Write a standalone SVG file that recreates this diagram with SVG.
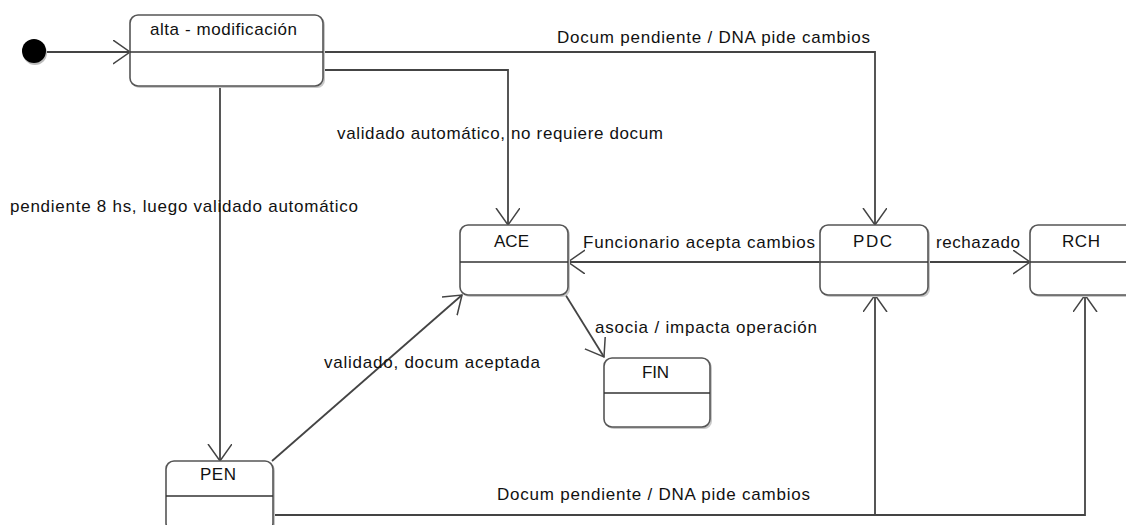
<svg xmlns="http://www.w3.org/2000/svg" width="1126" height="525" viewBox="0 0 1126 525">
<style>
.bg{fill:#fff}
.shadow{fill:#c8c8c8}
.box{fill:#fff;stroke:#555;stroke-width:1.6}
.div{stroke:#333;stroke-width:1.6}
.t{font-family:"Liberation Sans",Arial,sans-serif;font-size:17px;fill:#111}
.con{fill:none;stroke:#444;stroke-width:1.8}
</style>
<defs>
<marker id="arr" markerUnits="userSpaceOnUse" markerWidth="20" markerHeight="26" refX="17" refY="12" orient="auto">
<path d="M0,0 L17,12 L0,24" fill="none" stroke="#444" stroke-width="1.5"/>
</marker>
</defs>
<rect class="bg" x="0" y="0" width="1126" height="525"/>

<g id="connectors">
<path class="con" d="M46,52 H130" marker-end="url(#arr)"/>
<path class="con" d="M323,52 H875 V225" marker-end="url(#arr)"/>
<path class="con" d="M323,70 H508 V225" marker-end="url(#arr)"/>
<path class="con" d="M220,86 V461" marker-end="url(#arr)"/>
<path class="con" d="M820,262 H568" marker-end="url(#arr)"/>
<path class="con" d="M928,262 H1030" marker-end="url(#arr)"/>
<path class="con" d="M565,294 L604,357" marker-end="url(#arr)"/>
<path class="con" d="M272,461 L462,295" marker-end="url(#arr)"/>
<path class="con" d="M273,515 H875 V295" marker-end="url(#arr)"/>
<path class="con" d="M875,515 H1085 V295" marker-end="url(#arr)"/>
<text class="t" x="557" y="43" textLength="313" lengthAdjust="spacing">Docum pendiente / DNA pide cambios</text>
<text class="t" x="337" y="139" textLength="326" lengthAdjust="spacing">validado automático, no requiere docum</text>
<text class="t" x="10" y="212" textLength="348" lengthAdjust="spacing">pendiente 8 hs, luego validado automático</text>
<text class="t" x="583" y="248" textLength="232" lengthAdjust="spacing">Funcionario acepta cambios</text>
<text class="t" x="936" y="248" textLength="84" lengthAdjust="spacing">rechazado</text>
<text class="t" x="595" y="333" textLength="222" lengthAdjust="spacing">asocia / impacta operación</text>
<text class="t" x="324" y="368" textLength="216" lengthAdjust="spacing">validado, docum aceptada</text>
<text class="t" x="497" y="500" textLength="313" lengthAdjust="spacing">Docum pendiente / DNA pide cambios</text>
</g>

<g id="initial">
<circle cx="35" cy="53" r="12" fill="#bbb"/>
<circle cx="34" cy="51" r="12" fill="#000"/>
</g>

<g id="alta">
<rect class="shadow" x="132" y="17" width="193" height="71" rx="8"/>
<rect class="box" x="130" y="15" width="193" height="71" rx="8"/>
<line class="div" x1="130" y1="52" x2="323" y2="52"/>
<text class="t" x="150" y="35" textLength="147" lengthAdjust="spacing">alta - modificación</text>
</g>

<g id="ACE">
<rect class="shadow" x="462" y="227" width="108" height="70" rx="8"/>
<rect class="box" x="460" y="225" width="108" height="70" rx="8"/>
<line class="div" x1="460" y1="262" x2="568" y2="262"/>
<text class="t" x="494" y="247" textLength="35" lengthAdjust="spacing">ACE</text>
</g>

<g id="PDC">
<rect class="shadow" x="822" y="227" width="108" height="70" rx="8"/>
<rect class="box" x="820" y="225" width="108" height="70" rx="8"/>
<line class="div" x1="820" y1="262" x2="928" y2="262"/>
<text class="t" x="853" y="247" textLength="39" lengthAdjust="spacing">PDC</text>
</g>

<g id="RCH">
<rect class="shadow" x="1032" y="227" width="108" height="70" rx="8"/>
<rect class="box" x="1030" y="225" width="108" height="70" rx="8"/>
<line class="div" x1="1030" y1="262" x2="1138" y2="262"/>
<text class="t" x="1062" y="247" textLength="38" lengthAdjust="spacing">RCH</text>
</g>

<g id="FIN">
<rect class="shadow" x="606" y="360" width="106" height="69" rx="8"/>
<rect class="box" x="604" y="358" width="106" height="69" rx="8"/>
<line class="div" x1="604" y1="393" x2="710" y2="393"/>
<text class="t" x="642" y="378" textLength="27" lengthAdjust="spacing">FIN</text>
</g>

<g id="PEN">
<rect class="shadow" x="168" y="463" width="107" height="70" rx="8"/>
<rect class="box" x="166" y="461" width="107" height="70" rx="8"/>
<line class="div" x1="166" y1="496" x2="273" y2="496"/>
<text class="t" x="200" y="480" textLength="36" lengthAdjust="spacing">PEN</text>
</g>
</svg>
